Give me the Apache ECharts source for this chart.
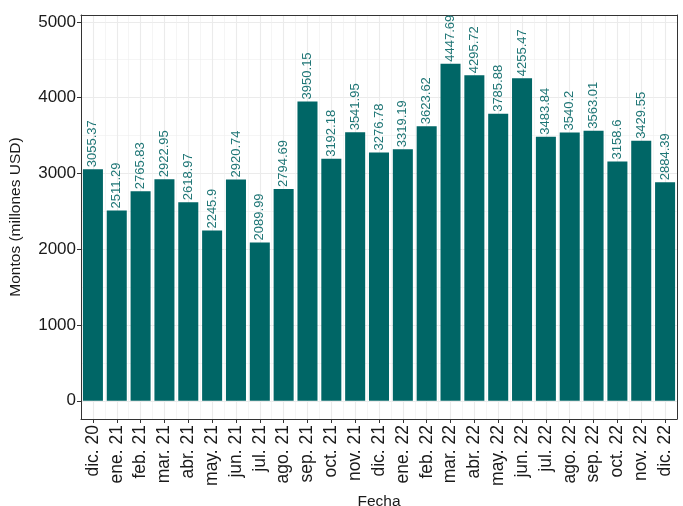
<!DOCTYPE html>
<html>
<head>
<meta charset="utf-8">
<script src="https://cdn.jsdelivr.net/npm/echarts@6/dist/echarts.min.js"></script>
<style>
  html, body { margin: 0; padding: 0; background: #fff; }
  #main { width: 683px; height: 506px; }
</style>
</head>
<body>
<div id="main"></div>
<script>
// datos mensuales
var fechas = ['dic. 20','ene. 21','feb. 21','mar. 21','abr. 21','may. 21','jun. 21','jul. 21','ago. 21',
              'sep. 21','oct. 21','nov. 21','dic. 21','ene. 22','feb. 22','mar. 22','abr. 22','may. 22',
              'jun. 22','jul. 22','ago. 22','sep. 22','oct. 22','nov. 22','dic. 22'];
var montos = [3055.37, 2511.29, 2765.83, 2922.95, 2618.97, 2245.9, 2920.74, 2089.99, 2794.69,
              3950.15, 3192.18, 3541.95, 3276.78, 3319.19, 3623.62, 4447.69, 4295.72, 3785.88,
              4255.47, 3483.84, 3540.2, 3563.01, 3158.6, 3429.55, 2884.39];
var yTicks = [0, 1000, 2000, 3000, 4000, 5000];
var yMinor = [500, 1500, 2500, 3500, 4500];

var fuente = 'Liberation Sans, Arial, sans-serif';
var borde = { show: true, onZero: false, lineStyle: { color: '#333', width: 1 } };
// centro de cada barra y punto medio entre barras (grilla vertical)
var centros = fechas.map(function(d, i){ return i; });
var medios = centros.slice(1).map(function(i){ return i - 0.5; });

var myChart = echarts.init(document.getElementById('main'), null, {renderer: 'canvas'});
myChart.setOption({
    backgroundColor: '#fff',
    animation: false,
    textStyle: { fontFamily: fuente },
    grid: { left: 81, right: 6, top: 15, bottom: 87, containLabel: false, outerBoundsMode: 'none' },
    xAxis: [{
        type: 'category',
        data: fechas,
        position: 'bottom',
        boundaryGap: true,
        axisLine: borde,
        axisTick: { show: true, alignWithLabel: true, length: 4, lineStyle: { color: '#333' } },
        axisLabel: { rotate: 90, interval: 0, margin: 6, fontSize: 17.5, color: '#1a1a1a', fontFamily: fuente },
        splitLine: { show: false },
        name: 'Fecha',
        nameLocation: 'middle',
        nameGap: 70,
        nameTextStyle: { fontSize: 15.5, color: '#1a1a1a', fontFamily: fuente }
    }, {
        type: 'value',
        min: -0.5, max: fechas.length - 0.5,
        position: 'top',
        axisLine: borde,
        axisTick: { show: false, customValues: centros },
        axisLabel: { show: false, customValues: centros },
        splitLine: { show: true, lineStyle: { color: '#ebebeb', width: 1.1 } }
    }, {
        type: 'value',
        min: -0.5, max: fechas.length - 0.5,
        axisLine: { show: false, onZero: false },
        axisTick: { show: false, customValues: medios },
        axisLabel: { show: false, customValues: medios },
        splitLine: { show: true, lineStyle: { color: '#efefef', width: 0.6 } }
    }],
    yAxis: [{
        type: 'value',
        min: -240, max: 5090,
        position: 'right',
        axisLine: borde,
        axisTick: { show: false, customValues: yMinor },
        axisLabel: { show: false, customValues: yMinor },
        splitLine: { show: true, lineStyle: { color: '#efefef', width: 0.6 } }
    }, {
        type: 'value',
        min: -240, max: 5090,
        position: 'left',
        axisLine: borde,
        axisTick: { show: true, length: 4, customValues: yTicks, lineStyle: { color: '#333' } },
        axisLabel: {
            customValues: yTicks, fontSize: 17, color: '#1a1a1a', margin: 5, fontFamily: fuente,
            formatter: function(v){ return String(v); }
        },
        splitLine: { show: true, lineStyle: { color: '#ebebeb', width: 1.1 } },
        name: 'Montos (millones USD)',
        nameLocation: 'middle',
        nameGap: 57,
        nameTextStyle: { fontSize: 15.5, color: '#1a1a1a', fontFamily: fuente }
    }],
    series: [{
        type: 'bar',
        xAxisIndex: 0,
        yAxisIndex: 0,
        data: montos,
        barCategoryGap: '16%',
        itemStyle: { color: '#006666' },
        label: {
            show: true,
            position: 'top',
            rotate: 90,
            align: 'left',
            verticalAlign: 'middle',
            distance: 2,
            fontSize: 13,
            color: '#1f7676',
            fontFamily: fuente,
            formatter: function(p){ return String(p.value); }
        }
    }]
});
</script>
</body>
</html>
